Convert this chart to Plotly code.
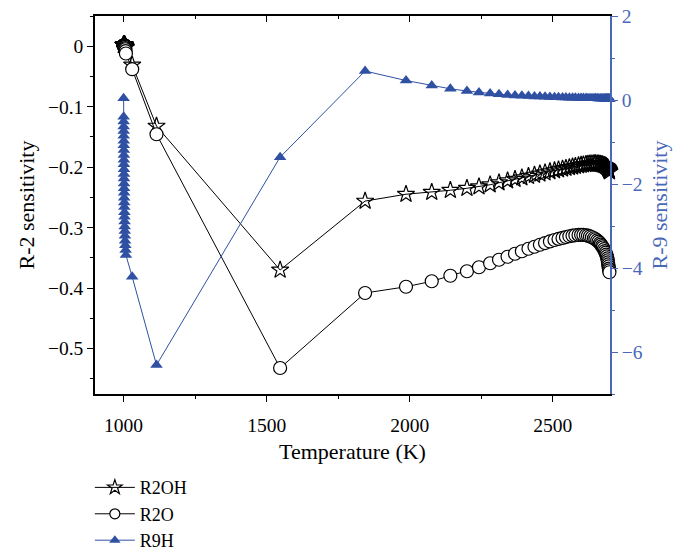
import plotly.graph_objects as go

# Temperature (K) shared by all three series
temperature = [
    1000.0, 1000.1, 1000.2, 1000.3, 1000.4, 1000.5, 1000.6, 1000.7, 1000.8, 1000.9,
    1001.0, 1001.1, 1001.2, 1001.3, 1001.4, 1001.5, 1001.7, 1001.9, 1002.1, 1002.3,
    1002.5, 1002.8, 1003.1, 1003.4, 1003.8, 1004.2, 1004.7, 1005.3, 1006.0, 1007.0,
    1008.0,
    1030, 1115, 1547, 1844,
    1987, 2077, 2142, 2200, 2242, 2281, 2312, 2342, 2368, 2392,
    2415, 2436, 2455, 2473, 2490, 2506, 2520, 2534, 2546, 2558,
    2569, 2579, 2590, 2599, 2607, 2616, 2623, 2630, 2637, 2644,
    2649, 2655, 2660, 2665, 2668, 2672, 2675, 2679, 2682, 2685,
    2687, 2689, 2691, 2692, 2693, 2694, 2695, 2696, 2697, 2698,
]

r2oh = [
    0.002, 0.002, 0.002, 0.002, 0.002, 0.002, 0.002, 0.002, 0.002, 0.002,
    0.002, 0.002, 0.002, 0.002, 0.002, 0.002, 0.002, 0.002, 0.002, 0.002,
    0.002, 0.002, 0.002, 0.002, 0.002, 0.002, 0.001, 0.001, 0.000, -0.001,
    -0.002,
    -0.031, -0.132, -0.370, -0.256,
    -0.2447, -0.2414, -0.2381, -0.2348, -0.2323, -0.2290, -0.2257, -0.2224, -0.2199, -0.2174,
    -0.2150, -0.2130, -0.2110, -0.2092, -0.2073, -0.2057, -0.2042, -0.2029, -0.2016, -0.2004,
    -0.1994, -0.1984, -0.1974, -0.1966, -0.1959, -0.1953, -0.1948, -0.1944, -0.1943, -0.1941,
    -0.1941, -0.1943, -0.1944, -0.1948, -0.1951, -0.1956, -0.1961, -0.1968, -0.1974, -0.1981,
    -0.1989, -0.1997, -0.2006, -0.2014, -0.2022, -0.2030, -0.2040, -0.2050, -0.2060, -0.2075,
]

r2o = [
    0.001, 0.001, 0.001, 0.001, 0.001, 0.001, 0.001, 0.001, 0.001, 0.001,
    0.001, 0.001, 0.001, 0.001, 0.001, 0.001, 0.001, 0.001, 0.001, 0.001,
    0.001, 0.001, 0.001, 0.001, 0.001, 0.000, -0.001, -0.003, -0.005, -0.008,
    -0.012,
    -0.038, -0.1455, -0.532, -0.408,
    -0.3977, -0.3886, -0.3795, -0.3720, -0.3654, -0.3588, -0.3530, -0.3481, -0.3431, -0.3390,
    -0.3348, -0.3315, -0.3282, -0.3254, -0.3228, -0.3204, -0.3186, -0.3170, -0.3155, -0.3142,
    -0.3132, -0.3125, -0.3120, -0.3118, -0.3120, -0.3125, -0.3133, -0.3145, -0.3158, -0.3175,
    -0.3191, -0.3211, -0.3232, -0.3257, -0.3279, -0.3304, -0.3328, -0.3356, -0.3386, -0.3414,
    -0.3444, -0.3476, -0.3509, -0.3542, -0.3575, -0.3608, -0.3641, -0.3676, -0.3707, -0.3737,
]

r9h = [
    0.04, -0.40, -0.51, -0.63, -0.74, -0.85, -0.97, -1.08, -1.19, -1.31,
    -1.42, -1.53, -1.65, -1.76, -1.87, -1.99, -2.10, -2.21, -2.33, -2.44,
    -2.55, -2.67, -2.78, -2.89, -3.01, -3.12, -3.23, -3.35, -3.46, -3.57,
    -3.69,
    -4.21, -6.31, -1.36, 0.69,
    0.464, 0.345, 0.267, 0.214, 0.179, 0.155, 0.136, 0.121, 0.110, 0.100,
    0.093, 0.086, 0.081, 0.076, 0.071, 0.067, 0.064, 0.061, 0.058, 0.056,
    0.054, 0.052, 0.050, 0.048, 0.047, 0.046, 0.045, 0.044, 0.043, 0.042,
    0.041, 0.040, 0.039, 0.038, 0.038, 0.037, 0.036, 0.036, 0.035, 0.034,
    0.034, 0.033, 0.033, 0.032, 0.032, 0.031, 0.031, 0.030, 0.030, 0.030,
]

x_ticks = [1000, 1500, 2000, 2500]
left_ticks = [0, -0.1, -0.2, -0.3, -0.4, -0.5]
left_ticktext = ["0", "\u22120.1", "\u22120.2", "\u22120.3", "\u22120.4", "\u22120.5"]
right_ticks = [2, 0, -2, -4, -6]
right_ticktext = ["2", "0", "\u22122", "\u22124", "\u22126"]

x_range = [900, 2700]
left_range = [-0.575, 0.05]
right_range = [-7, 2.0005]

BLUE = "#2f50a3"
AXBLUE = "#4a68b8"
FONT = "Liberation Serif"
TICKSIZE = 19.5
TITLESIZE = 18.5
LEGSIZE = 18

fig = go.Figure()
fig.add_trace(go.Scatter(
    x=temperature, y=r2oh, name="R2OH", mode="lines+markers", showlegend=False,
    line=dict(color="black", width=1),
    marker=dict(symbol="star-open", size=13, color="black", line=dict(width=1.2)),
    cliponaxis=False,
))
fig.add_trace(go.Scatter(
    x=temperature, y=r2o, name="R2O", mode="lines+markers", showlegend=False,
    line=dict(color="black", width=1),
    marker=dict(symbol="circle", size=13, color="white", line=dict(color="black", width=1.2)),
    cliponaxis=False,
))
fig.add_trace(go.Scatter(
    x=temperature, y=r9h, name="R9H", mode="lines+markers", yaxis="y2", showlegend=False,
    line=dict(color=BLUE, width=1),
    marker=dict(symbol="triangle-up", size=11, color=BLUE),
    cliponaxis=False,
))
# legend-only entries with smaller symbols, as in the reference legend
fig.add_trace(go.Scatter(
    x=[None], y=[None], name="R2OH", mode="lines+markers",
    line=dict(color="black", width=1),
    marker=dict(symbol="star-open", size=11, color="black", line=dict(width=1.2)),
))
fig.add_trace(go.Scatter(
    x=[None], y=[None], name="R2O", mode="lines+markers",
    line=dict(color="black", width=1),
    marker=dict(symbol="circle", size=10, color="white", line=dict(color="black", width=1.2)),
))
fig.add_trace(go.Scatter(
    x=[None], y=[None], name="R9H", mode="lines+markers",
    line=dict(color=BLUE, width=1),
    marker=dict(symbol="triangle-up", size=10, color=BLUE),
))
# empty trace so the top (inside-tick) axis is drawn
fig.add_trace(go.Scatter(x=[], y=[], xaxis="x2", showlegend=False, hoverinfo="skip"))

fig.update_layout(
    width=678, height=556,
    margin=dict(l=95, r=68, t=16, b=162, autoexpand=False),
    paper_bgcolor="white", plot_bgcolor="white",
    font=dict(family=FONT, size=TITLESIZE, color="black"),
    showlegend=True,
    legend=dict(
        x=-0.01, y=-0.437, xanchor="left", yanchor="bottom",
        font=dict(family=FONT, size=LEGSIZE), bgcolor="rgba(0,0,0,0)",
        tracegroupgap=0, itemwidth=40,
    ),
    xaxis=dict(
        range=x_range, tickvals=x_ticks, automargin=False,
        ticks="outside", ticklen=6, tickwidth=1.2, tickcolor="black",
        tickfont=dict(size=TICKSIZE), ticklabelstandoff=7,
        showline=True, linecolor="black", linewidth=1.5,
        showgrid=False, zeroline=False,
        minor=dict(dtick=250, tick0=1000, ticks="outside", ticklen=3, tickcolor="black", showgrid=False),
        title=dict(text="Temperature (K)", standoff=8),
    ),
    xaxis2=dict(
        range=x_range, overlaying="x", side="top", anchor="y", automargin=False,
        tickvals=x_ticks, showticklabels=False,
        ticks="inside", ticklen=6, tickwidth=1.2, tickcolor="black",
        showline=True, linecolor="black", linewidth=1.5,
        showgrid=False, zeroline=False,
        minor=dict(dtick=250, tick0=1000, ticks="inside", ticklen=3, tickcolor="black", showgrid=False),
    ),
    yaxis=dict(
        range=left_range, tickvals=left_ticks, ticktext=left_ticktext, automargin=False,
        ticks="outside", ticklen=6, tickwidth=1.2, tickcolor="black",
        tickfont=dict(size=TICKSIZE),
        showline=True, linecolor="black", linewidth=1.5,
        showgrid=False, zeroline=False,
        minor=dict(dtick=0.05, tick0=0, ticks="outside", ticklen=3, tickcolor="black", showgrid=False),
        title=dict(text="R-2 sensitivity", standoff=7),
    ),
    yaxis2=dict(
        range=right_range, overlaying="y", side="right", anchor="x", automargin=False,
        tickvals=right_ticks, ticktext=right_ticktext, ticklabeloverflow="allow",
        ticks="outside", ticklen=6, tickwidth=1.2, tickcolor=AXBLUE,
        showline=True, linecolor=AXBLUE, linewidth=1.5,
        showgrid=False, zeroline=False,
        tickfont=dict(color=AXBLUE, size=TICKSIZE),
        minor=dict(dtick=1, tick0=0, ticks="outside", ticklen=3, tickcolor=AXBLUE, showgrid=False),
        title=dict(text="R-9 sensitivity", font=dict(color=AXBLUE), standoff=10),
    ),
)

# remove the browser's default 8px page margin so the figure fills the window
fig.write_html(
    "out.html",
    config={"displayModeBar": False},
    post_script="document.body.style.margin='0';",
)
